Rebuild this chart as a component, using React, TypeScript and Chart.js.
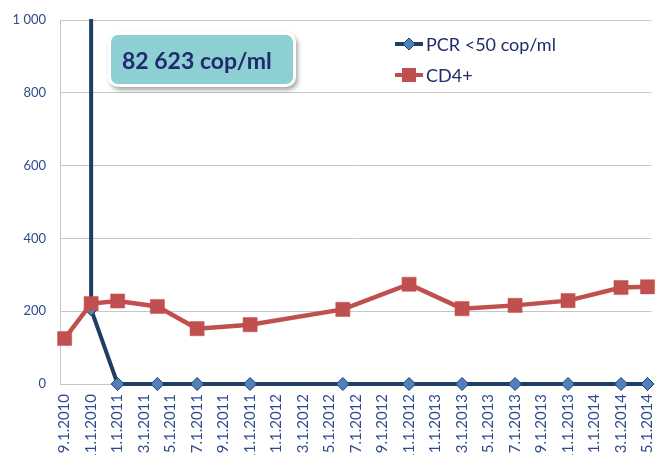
import React, { useEffect, useRef } from 'react';
import { Chart, registerables } from 'chart.js';
Chart.register(...registerables);

const xTickLabels = ['9.1.2010', '11.1.2010', '1.1.2011', '3.1.2011', '5.1.2011', '7.1.2011', '9.1.2011', '11.1.2011', '1.1.2012', '3.1.2012', '5.1.2012', '7.1.2012', '9.1.2012', '11.1.2012', '1.1.2013', '3.1.2013', '5.1.2013', '7.1.2013', '9.1.2013', '11.1.2013', '1.1.2014', '3.1.2014', '5.1.2014'];

const pcrLabel = 'PCR <50 cop/ml';
const pcrDates = ['11.1.2010', '11.1.2010', '1.1.2011', '4.1.2011', '7.1.2011', '11.1.2011', '6.1.2012', '11.1.2012', '3.1.2013', '7.1.2013', '11.1.2013', '3.1.2014', '5.1.2014'];
const pcrValues = [82623, 205, 0, 0, 0, 0, 0, 0, 0, 0, 0, 0, 0];

const cd4Label = 'CD4+';
const cd4Dates = ['9.1.2010', '11.1.2010', '1.1.2011', '4.1.2011', '7.1.2011', '11.1.2011', '6.1.2012', '11.1.2012', '3.1.2013', '7.1.2013', '11.1.2013', '3.1.2014', '5.1.2014'];
const cd4Values = [125, 221, 228, 213, 152, 163, 205, 274, 207, 216, 229, 265, 267];

const yMin = 0;
const yMax = 1000;
const yStep = 200;
const annotationText = '82 623 cop/ml';

// month index counted from September 2010 (m.d.yyyy)
function monthIndex(s: string): number {
  const [m, , y] = s.split('.').map(Number);
  return (y - 2010) * 12 + (m - 9);
}

const PCR_LINE = '#1F3E66';
const PCR_FILL = '#4F81BD';
const CD4_COLOR = '#C0504D';
const TICK_COLOR = '#2E4A8C';
const TEXT_NAVY = '#1F2B6B';
const GRID = '#C6C6C6';
const FONT = 'Lato, "Open Sans", sans-serif';

const legendPlugin = {
  id: 'customLegend',
  afterDraw(chart: any) {
    const ctx = chart.ctx;
    const items = [
      { label: pcrLabel, y: 44, line: PCR_LINE, style: 'diamond' },
      { label: cd4Label, y: 75, line: CD4_COLOR, style: 'square' },
    ];
    ctx.save();
    for (const it of items) {
      ctx.strokeStyle = it.line;
      ctx.lineWidth = 4;
      ctx.beginPath();
      ctx.moveTo(395, it.y);
      ctx.lineTo(423, it.y);
      ctx.stroke();
      if (it.style === 'diamond') {
        ctx.fillStyle = PCR_FILL;
        ctx.strokeStyle = PCR_LINE;
        ctx.lineWidth = 1;
        ctx.beginPath();
        ctx.moveTo(409, it.y - 6);
        ctx.lineTo(415, it.y);
        ctx.lineTo(409, it.y + 6);
        ctx.lineTo(403, it.y);
        ctx.closePath();
        ctx.fill();
        ctx.stroke();
      } else {
        ctx.fillStyle = CD4_COLOR;
        ctx.fillRect(402, it.y - 7, 14, 14);
      }
      ctx.fillStyle = TEXT_NAVY;
      ctx.font = `18px ${FONT}`;
      ctx.textBaseline = 'middle';
      ctx.textAlign = 'left';
      ctx.fillText(it.label, 426, it.y + 1);
    }
    ctx.restore();
  },
};

export default function App() {
  const ref = useRef<HTMLCanvasElement>(null);

  useEffect(() => {
    const labelMap: Record<number, string> = {};
    xTickLabels.forEach((l) => { labelMap[monthIndex(l)] = l; });

    const chart = new Chart(ref.current as HTMLCanvasElement, {
      type: 'line',
      data: {
        datasets: [
          {
            label: pcrLabel,
            data: pcrDates.map((d, i) => ({ x: monthIndex(d), y: pcrValues[i] })),
            borderColor: PCR_LINE,
            borderWidth: 4,
            backgroundColor: PCR_FILL,
            pointStyle: 'rectRot',
            pointRadius: 6.5,
            pointBorderColor: PCR_LINE,
            pointBorderWidth: 1,
            pointBackgroundColor: PCR_FILL,
            tension: 0,
            order: 1,
            clip: { left: 10, top: 1, right: 10, bottom: 10 },
          },
          {
            label: cd4Label,
            data: cd4Dates.map((d, i) => ({ x: monthIndex(d), y: cd4Values[i] })),
            borderColor: CD4_COLOR,
            borderWidth: 4.5,
            backgroundColor: CD4_COLOR,
            pointStyle: 'rect',
            pointRadius: 10,
            pointBorderColor: CD4_COLOR,
            pointBorderWidth: 0.5,
            pointBackgroundColor: CD4_COLOR,
            tension: 0,
            order: 0,
            clip: { left: 10, top: 10, right: 10, bottom: 10 },
          },
        ],
      },
      options: {
        animation: false,
        responsive: false,
        devicePixelRatio: 1,
        layout: { padding: { top: 20, right: 7, bottom: 0, left: 0 } },
        plugins: {
          legend: { display: false },
          tooltip: { enabled: false },
        },
        scales: {
          x: {
            type: 'linear',
            min: -0.35,
            max: 44.3,
            afterBuildTicks: (scale: any) => {
              scale.ticks = xTickLabels.map((l) => ({ value: monthIndex(l) }));
            },
            afterFit: (scale: any) => {
              scale.height = 71;
              scale.paddingLeft = 0;
              scale.paddingRight = 0;
            },
            grid: { display: false, drawTicks: false },
            border: { display: true, color: GRID, width: 1 },
            ticks: {
              autoSkip: false,
              minRotation: 90,
              maxRotation: 90,
              padding: 10,
              color: TICK_COLOR,
              font: { family: FONT, size: 15 },
              callback: (v: any) => labelMap[v as number] ?? '',
            },
          },
          y: {
            min: yMin,
            max: yMax,
            afterFit: (scale: any) => {
              scale.width = 60;
              scale.paddingTop = 0;
              scale.paddingBottom = 0;
            },
            grid: { color: GRID, drawTicks: false, lineWidth: 1 },
            border: { display: true, color: GRID, width: 1 },
            ticks: {
              stepSize: yStep,
              padding: 14,
              color: TICK_COLOR,
              font: { family: FONT, size: 13 },
              callback: (v: any) => (Number(v) >= 1000 ? String(v).replace(/\B(?=(\d{3})+(?!\d))/g, ' ') : String(v)),
            },
          },
        },
      },
      plugins: [legendPlugin],
    } as any);
    return () => chart.destroy();
  }, []);

  return (
    <div style={{ position: 'absolute', left: 0, top: 0, width: 662, height: 455, overflow: 'hidden', background: '#fff' }}>
      <canvas ref={ref} width={662} height={455} style={{ display: 'block', width: 662, height: 455 }} />
      <div
        style={{
          position: 'absolute',
          left: 108,
          top: 32,
          width: 188,
          height: 55,
          boxSizing: 'border-box',
          background: '#8DCFD2',
          border: '3px solid #ffffff',
          borderRadius: 10,
          boxShadow: '2px 3px 4px rgba(0,0,0,0.35)',
          display: 'flex',
          alignItems: 'center',
          paddingLeft: 11,
          fontFamily: FONT,
          fontWeight: 700,
          fontSize: 23,
          color: TEXT_NAVY,
          whiteSpace: 'nowrap',
        }}
      >
        {annotationText}
      </div>
    </div>
  );
}
